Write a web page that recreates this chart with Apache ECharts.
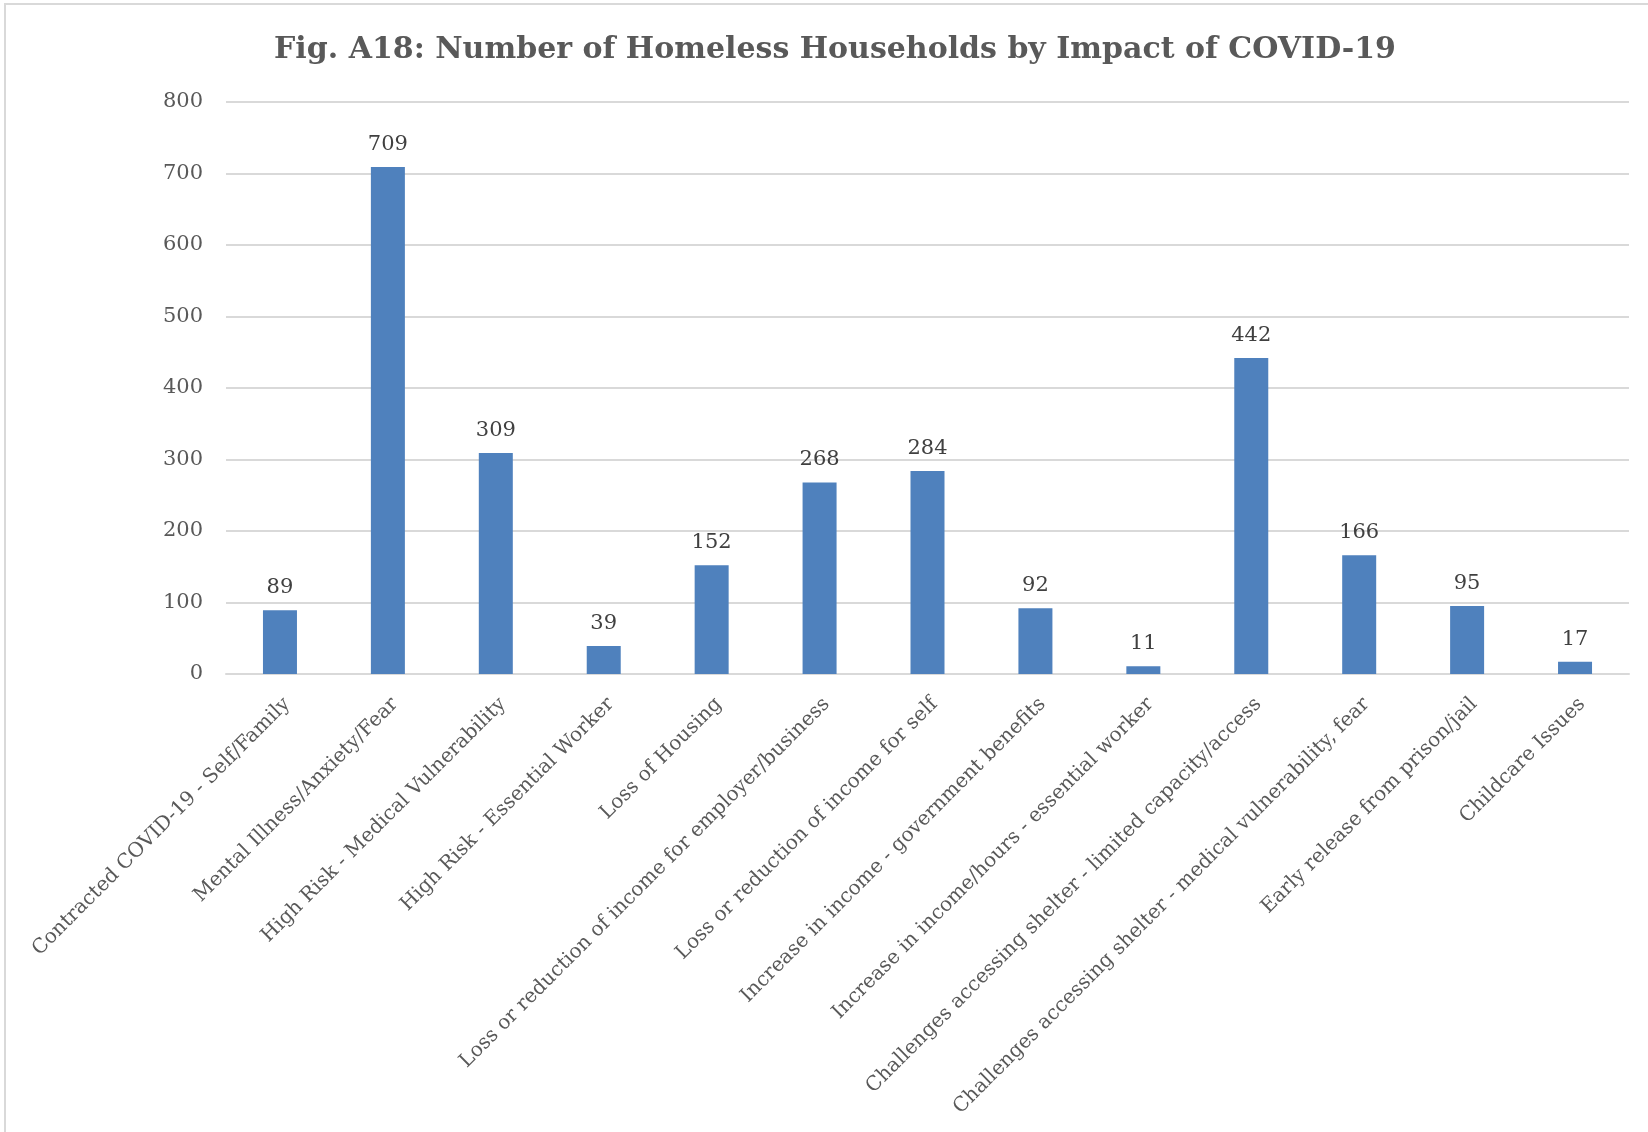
<!DOCTYPE html>
<html>
<head>
<meta charset="utf-8">
<title>Fig. A18</title>
<script src="https://cdn.jsdelivr.net/npm/echarts@6/dist/echarts.min.js"></script>
<style>
  html, body { margin: 0; padding: 0; background: #fff; }
  #chart { width: 1648px; height: 1132px; }
</style>
</head>
<body>
<div id="chart"></div>
<script>
// categories and counts
const categories = [
  "Contracted COVID-19 - Self/Family",
  "Mental Illness/Anxiety/Fear",
  "High Risk - Medical Vulnerability",
  "High Risk - Essential Worker",
  "Loss of Housing",
  "Loss or reduction of income for employer/business",
  "Loss or reduction of income for self",
  "Increase in income - government benefits",
  "Increase in income/hours - essential worker",
  "Challenges accessing shelter - limited capacity/access",
  "Challenges accessing shelter - medical vulnerability, fear",
  "Early release from prison/jail",
  "Childcare Issues"
];
const households = [89, 709, 309, 39, 152, 268, 284, 92, 11, 442, 166, 95, 17];
const yTicks = [0, 100, 200, 300, 400, 500, 600, 700, 800];

const font = "DejaVu Serif";

const chart = echarts.init(document.getElementById("chart"));
chart.setOption({
  backgroundColor: "#fff",
  animation: false,
  title: {
    text: "Fig. A18: Number of Homeless Households by Impact of COVID-19",
    left: 830,
    top: 30,
    textAlign: "center",
    textStyle: { fontFamily: font, fontWeight: "bold", fontSize: 30, color: "#595959" }
  },
  // light frame round the chart, cut off at right and bottom like the source
  graphic: [{
    type: "rect",
    shape: { x: 5, y: 4, width: 1700, height: 1200 },
    style: { fill: null, stroke: "#d9d9d9", lineWidth: 2 },
    silent: true
  }],
  grid: { left: 226, right: 19, top: 102, bottom: 458 },
  xAxis: {
    type: "category",
    data: categories,
    axisTick: { show: false },
    axisLine: { lineStyle: { color: "#d9d9d9", width: 2 } },
    axisLabel: {
      interval: 0,
      rotate: 45,
      margin: 20,
      verticalAlign: "top",
      fontFamily: font,
      fontSize: 20,
      color: "#595959"
    }
  },
  yAxis: {
    type: "value",
    min: yTicks[0],
    max: yTicks[yTicks.length - 1],
    interval: 100,
    axisLine: { show: false },
    axisTick: { show: false },
    splitLine: { lineStyle: { color: "#d9d9d9", width: 2 } },
    axisLabel: { margin: 23, fontFamily: font, fontSize: 21, color: "#595959" }
  },
  series: [{
    type: "bar",
    data: households,
    barWidth: 34,
    itemStyle: { color: "#4f81bd" },
    label: {
      show: true,
      position: "top",
      distance: 12,
      fontFamily: font,
      fontSize: 21,
      color: "#404040"
    }
  }]
});
</script>
</body>
</html>
